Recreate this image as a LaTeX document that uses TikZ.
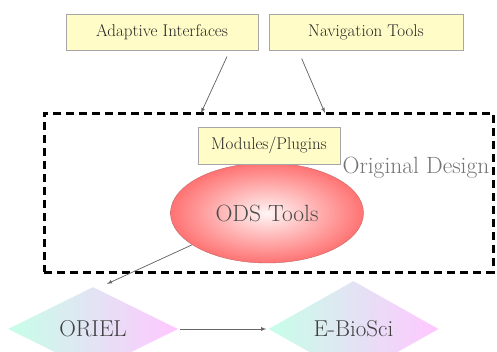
\documentclass[tikz,border=0pt]{standalone}
\usetikzlibrary{shapes.geometric}

\begin{document}
\begin{tikzpicture}[x=1pt, y=-1pt,
        box/.style={draw=gray!70, fill=yellow!22, minimum height=36pt, inner sep=0pt, text=black!85, font=\fontsize{17}{17}\selectfont},
        frame/.style={draw, line width=3pt, dash pattern=on 8pt off 5pt, minimum width=449pt, minimum height=159pt, inner sep=0pt},
        tool/.style={draw=red!60!black!60, ellipse, minimum width=193pt, minimum height=100pt, inner color=red!4, outer color=red!55, text=black!70, font=\fontsize{23.5}{23.5}\selectfont},
        site/.style={diamond, minimum width=170pt, minimum height=70pt, inner sep=0pt, text=black!75, font=\fontsize{23}{23}\selectfont,
            left color=green!40!cyan!22, middle color=yellow!12, right color=magenta!22},
        link/.style={draw=black!60, line width=.75pt, -latex}]
    \clip (0,0) rectangle (497,351);

    % top boxes
    \node[box, minimum width=192pt] (ai) at (162,32) {Adaptive Interfaces};
    \node[box, minimum width=194pt] (nav) at (366,32) {Navigation Tools};

    % original design
    \node[frame] (design) at (268.5,192.5) {};
    \node[text=black!55, font=\fontsize{23.5}{23.5}\selectfont] (label) at (416,168) {Original Design};
    \node[tool] (ods) at (267,213) {ODS Tools};
    \node[box, minimum width=142pt, minimum height=37pt] (mods) at (269,145.5) {Modules/Plugins};

    % sites
    \node[site] (oriel) at (93,329) {ORIEL};
    \node[site, minimum height=64pt] (ebio) at (353.5,329) {E-BioSci};

    \coordinate (in1) at (201,113);
    \coordinate (in2) at (325,113);

    \draw[link, shorten <=7pt] (ai.-15) -- (in1);
    \draw[link, shorten <=9pt] (nav.-165) -- (in2);
    \draw[link] (ods.-157) -- ([shift={(14,-3)}]oriel.north);
    \draw[link, shorten <=2pt, shorten >=2pt] (oriel) -- (ebio);

\end{tikzpicture}
\end{document}
